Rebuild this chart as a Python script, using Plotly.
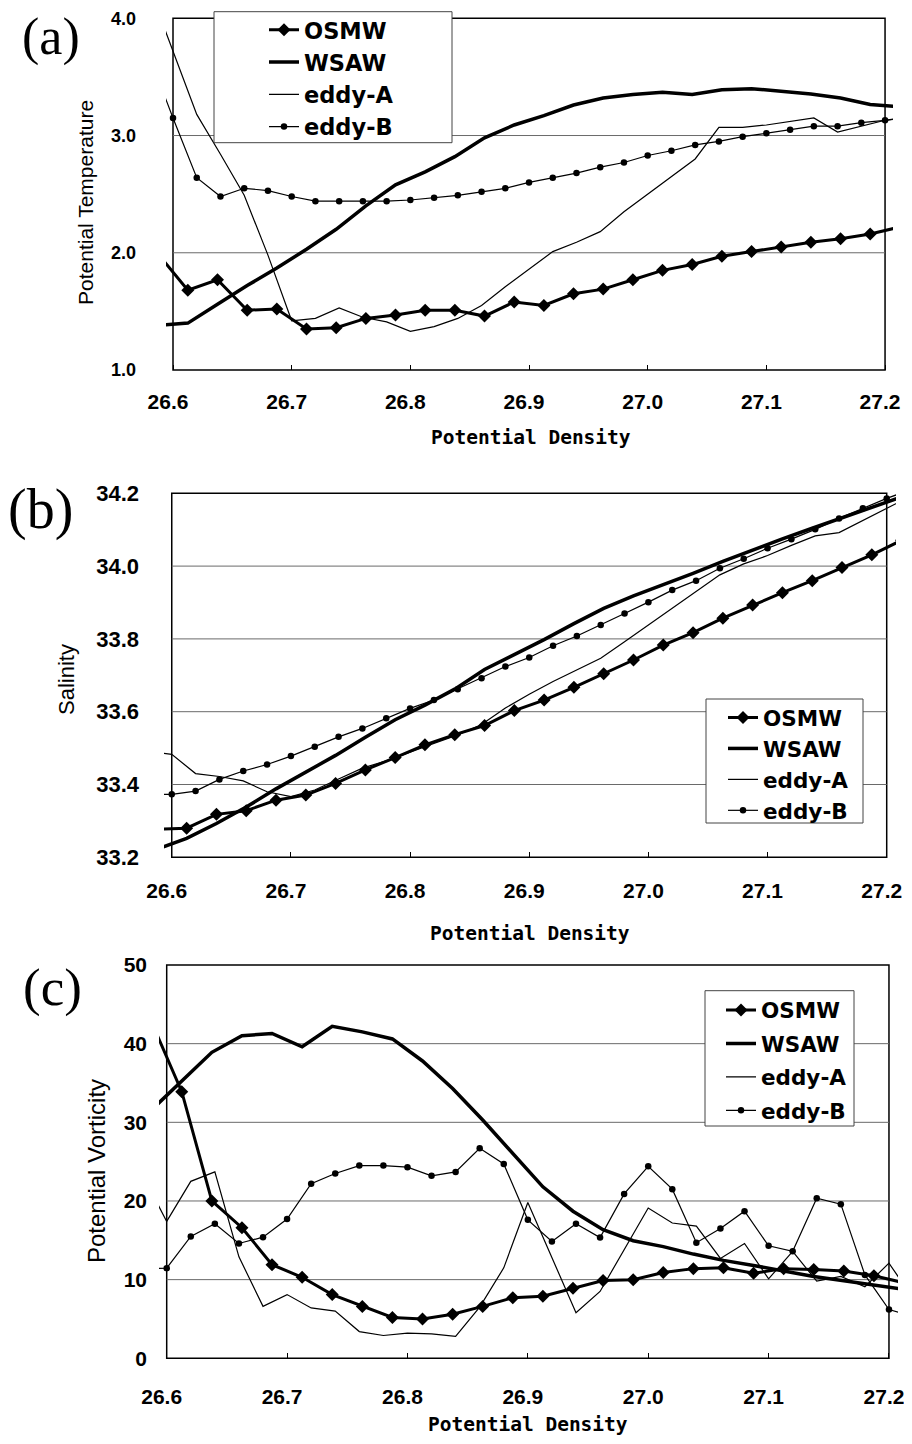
import plotly.graph_objects as go

# ---------------- data ----------------
SERIES = ["OSMW", "WSAW", "eddy-A", "eddy-B"]

# potential-density positions of water-mass profiles (OSMW, WSAW)
X_WM = [26.5875, 26.6125, 26.6375, 26.6625, 26.6875, 26.7125, 26.7375, 26.7625,
        26.7875, 26.8125, 26.8375, 26.8625, 26.8875, 26.9125, 26.9375, 26.9625,
        26.9875, 27.0125, 27.0375, 27.0625, 27.0875, 27.1125, 27.1375, 27.1625,
        27.1875, 27.2125]
# potential-density positions of eddy profiles (eddy-A, eddy-B)
X_EDDY = [26.58, 26.60, 26.62, 26.64, 26.66, 26.68, 26.70, 26.72, 26.74, 26.76,
          26.78, 26.80, 26.82, 26.84, 26.86, 26.88, 26.90, 26.92, 26.94, 26.96,
          26.98, 27.00, 27.02, 27.04, 27.06, 27.08, 27.10, 27.12, 27.14, 27.16,
          27.18, 27.20, 27.22]

# (a) potential temperature
TEMP_OSMW = [1.99, 1.68, 1.77, 1.51, 1.52, 1.35, 1.36, 1.44, 1.47, 1.51, 1.51, 1.46,
             1.58, 1.55, 1.65, 1.69, 1.77, 1.85, 1.90, 1.97, 2.01, 2.05, 2.09, 2.12,
             2.16, 2.22]
TEMP_WSAW = [1.38, 1.40, 1.56, 1.72, 1.87, 2.03, 2.20, 2.40, 2.58, 2.69, 2.82, 2.98,
             3.09, 3.17, 3.26, 3.32, 3.35, 3.37, 3.35, 3.39, 3.40, 3.38, 3.355, 3.32,
             3.265, 3.245]
TEMP_EDDYA = [4.26, 3.72, 3.18, 2.84, 2.49, 1.98, 1.42, 1.44, 1.53, 1.45, 1.41, 1.33,
              1.37, 1.44, 1.55, 1.71, 1.86, 2.01, 2.09, 2.18, 2.35, 2.50, 2.65, 2.80,
              3.07, 3.07, 3.09, 3.12, 3.15, 3.03, 3.08, 3.13, 3.16]
TEMP_EDDYB = [3.68, 3.15, 2.64, 2.48, 2.55, 2.53, 2.48, 2.44, 2.44, 2.44, 2.44, 2.45,
              2.47, 2.49, 2.52, 2.55, 2.60, 2.64, 2.68, 2.73, 2.77, 2.83, 2.87, 2.92,
              2.95, 2.99, 3.02, 3.05, 3.08, 3.08, 3.11, 3.13, 3.15]

# (b) salinity
SAL_OSMW = [33.277, 33.280, 33.318, 33.328, 33.357, 33.371, 33.403, 33.440, 33.474,
            33.509, 33.537, 33.562, 33.603, 33.632, 33.667, 33.704, 33.742, 33.783,
            33.817, 33.857, 33.893, 33.927, 33.960, 33.996, 34.031, 34.071]
SAL_WSAW = [33.222, 33.252, 33.293, 33.338, 33.388, 33.435, 33.480, 33.530, 33.578,
            33.618, 33.662, 33.716, 33.757, 33.798, 33.842, 33.884, 33.918, 33.948,
            33.980, 34.013, 34.045, 34.075, 34.104, 34.132, 34.161, 34.190]
SAL_EDDYA = [33.490, 33.483, 33.430, 33.422, 33.410, 33.380, 33.367, 33.385, 33.415,
             33.445, 33.465, 33.490, 33.513, 33.536, 33.565, 33.610, 33.648, 33.683,
             33.715, 33.747, 33.792, 33.838, 33.884, 33.930, 33.976, 34.006, 34.029,
             34.057, 34.083, 34.092, 34.125, 34.158, 34.192]
SAL_EDDYB = [33.372, 33.373, 33.382, 33.414, 33.437, 33.455, 33.478, 33.504, 33.531,
             33.554, 33.582, 33.609, 33.632, 33.662, 33.692, 33.724, 33.749, 33.781,
             33.808, 33.838, 33.870, 33.901, 33.934, 33.960, 33.994, 34.020, 34.049,
             34.074, 34.101, 34.131, 34.159, 34.186, 34.210]

# (c) potential vorticity
PV_OSMW = [42.7, 33.9, 20.0, 16.6, 11.9, 10.3, 8.1, 6.6, 5.2, 5.0, 5.6, 6.6, 7.7, 7.9,
           8.9, 9.9, 10.0, 10.9, 11.4, 11.5, 10.8, 11.4, 11.3, 11.1, 10.5, 9.6]
PV_WSAW = [31.6, 35.3, 38.9, 41.0, 41.3, 39.6, 42.2, 41.5, 40.6, 37.8, 34.3, 30.3,
           26.0, 21.8, 18.7, 16.35, 14.95, 14.2, 13.25, 12.45, 11.8, 11.1, 10.4, 9.85,
           9.25, 8.75]
PV_EDDYA = [23.3, 17.4, 22.5, 23.7, 12.9, 6.6, 8.1, 6.4, 6.0, 3.4, 2.9, 3.2, 3.1, 2.8,
            6.5, 11.5, 19.8, 12.8, 5.8, 8.5, 13.8, 19.1, 17.2, 16.8, 12.7, 14.6, 10.1,
            13.6, 9.8, 10.4, 9.1, 12.1, 7.6]
PV_EDDYB = [11.4, 11.46, 15.5, 17.1, 14.6, 15.4, 17.7, 22.2, 23.5, 24.5, 24.5, 24.3,
            23.2, 23.7, 26.7, 24.7, 17.6, 14.85, 17.1, 15.35, 20.9, 24.4, 21.5, 14.7,
            16.5, 18.7, 14.3, 13.6, 20.35, 19.6, 10.6, 6.2, 5.3]

X_TICKS = [26.6, 26.7, 26.8, 26.9, 27.0, 27.1, 27.2]

# ---------------- layout helpers ----------------
# the page body keeps its default 8 px margin, so the figure is sized to fit inside it
OFF = 8
W, H = 912 - 2 * OFF, 1444 - 2 * OFF


def fx(p):
    return (p - OFF) / W


def fy(p):
    return 1 - (p - OFF) / H


STYLE = {
    "OSMW": dict(mode="lines+markers", line=dict(color="black", width=3),
                 marker=dict(symbol="diamond", size=10, color="black")),
    "WSAW": dict(mode="lines", line=dict(color="black", width=3.5)),
    "eddy-A": dict(mode="lines", line=dict(color="black", width=1.2)),
    "eddy-B": dict(mode="lines+markers", line=dict(color="black", width=1.2),
                   marker=dict(symbol="circle", size=6.5, color="black")),
}

panels = [
    dict(sfx="", leg="legend", label="(a)", lab_xy=(51, 37), lab_size=52,
         xr=[26.5941, 27.2067], xdom=(166, 893), ydom=(18.3, 370), yr=[1.0, 4.0],
         ytv=[1.0, 2.0, 3.0, 4.0], yfmt=".1f", grid=[2.0, 3.0], yfont=18, ystand=29, xstand=17,
         ytitle="Potential Temperature", yt_xy=(86, 203), yt_size=21,
         xt_xy=(531, 437),
         series=[(X_WM, TEMP_OSMW), (X_WM, TEMP_WSAW), (X_EDDY, TEMP_EDDYA), (X_EDDY, TEMP_EDDYB)],
         box=(214, 11.7, 452, 142.7), leg_xy=(264, 8.7), leg_font=22.5, gap=0),
    dict(sfx="2", leg="legend2", label="(b)", lab_xy=(40, 510), lab_size=56,
         xr=[26.5935, 27.2078], xdom=(164, 896), ydom=(493.3, 857.3), yr=[33.2, 34.2],
         ytv=[33.2, 33.4, 33.6, 33.8, 34.0, 34.2], yfmt=".1f", grid=[33.4, 33.6, 33.8, 34.0],
         yfont=22, ystand=24, xstand=19,
         ytitle="Salinity", yt_xy=(66, 680), yt_size=22,
         xt_xy=(530, 933),
         series=[(X_WM, SAL_OSMW), (X_WM, SAL_WSAW), (X_EDDY, SAL_EDDYA), (X_EDDY, SAL_EDDYB)],
         box=(706, 699, 863, 823), leg_xy=(723, 697), leg_font=21.5, gap=0),
    dict(sfx="3", leg="legend3", label="(c)", lab_xy=(52, 987), lab_size=53,
         xr=[26.5936, 27.2075], xdom=(159, 898), ydom=(965, 1358.3), yr=[0, 50],
         ytv=[0, 10, 20, 30, 40, 50], yfmt="d", grid=[10, 20, 30, 40],
         yfont=21, ystand=11, xstand=24,
         ytitle="Potential Vorticity", yt_xy=(96, 1171), yt_size=24,
         xt_xy=(528, 1424),
         series=[(X_WM, PV_OSMW), (X_WM, PV_WSAW), (X_EDDY, PV_EDDYA), (X_EDDY, PV_EDDYB)],
         box=(705, 990.7, 854, 1126), leg_xy=(721, 989.5), leg_font=21.5, gap=2.5),
]

fig = go.Figure()
shapes = []
annotations = []
layout = dict(
    width=W, height=H, margin=dict(l=0, r=0, t=0, b=0, pad=0, autoexpand=False),
    paper_bgcolor="white", plot_bgcolor="white",
    font=dict(family="Liberation Sans, Arial, sans-serif", color="black"),
)

for p in panels:
    xa, ya = "x" + p["sfx"], "y" + p["sfx"]
    for name, (xs, ys) in zip(SERIES, p["series"]):
        fig.add_trace(go.Scatter(
            x=xs, y=ys, name=name, xaxis=xa, yaxis=ya, legend=p["leg"],
            legendgroup=name + p["sfx"], showlegend=True, **STYLE[name]))

    layout["xaxis" + p["sfx"]] = dict(
        domain=[fx(p["xdom"][0]), fx(p["xdom"][1])], range=p["xr"], anchor=ya,
        tickvals=X_TICKS, tickformat=".1f", ticks="inside", ticklen=5, tickwidth=1,
        tickcolor="black", showgrid=False, zeroline=False, showline=False,
        automargin=False, ticklabelstandoff=p["xstand"], ticklabelshift=-5,
        ticklabeloverflow="allow",
        tickfont=dict(size=21, family="Liberation Sans, Arial", weight="bold", color="black"))
    layout["yaxis" + p["sfx"]] = dict(
        domain=[fy(p["ydom"][1]), fy(p["ydom"][0])], range=p["yr"], anchor=xa,
        tickvals=p["ytv"], tickformat=p["yfmt"], ticks="",
        showgrid=False, zeroline=False, showline=False, automargin=False,
        ticklabelstandoff=p["ystand"], ticklabeloverflow="allow",
        tickfont=dict(size=p["yfont"], family="Liberation Sans, Arial", weight="bold", color="black"))

    # horizontal gridlines within the frame
    for g in p["grid"]:
        shapes.append(dict(type="line", xref=xa, yref=ya, x0=X_TICKS[0], x1=X_TICKS[-1],
                           y0=g, y1=g, line=dict(color="#6a6a6a", width=1), layer="below"))
    # plot frame
    shapes.append(dict(type="rect", xref=xa, yref=ya + " domain", x0=X_TICKS[0], x1=X_TICKS[-1],
                       y0=0, y1=1, line=dict(color="black", width=1.5), layer="below"))
    # legend box
    bx0, by0, bx1, by1 = p["box"]
    shapes.append(dict(type="rect", xref="paper", yref="paper", x0=fx(bx0), x1=fx(bx1),
                       y0=fy(by1), y1=fy(by0), fillcolor="white",
                       line=dict(color="#444", width=1), layer="above"))
    layout[p["leg"]] = dict(
        x=fx(p["leg_xy"][0]), y=fy(p["leg_xy"][1]), xanchor="left", yanchor="top",
        bgcolor="rgba(0,0,0,0)", borderwidth=0, tracegroupgap=p["gap"],
        font=dict(family="DejaVu Sans, sans-serif", size=p["leg_font"], weight="bold",
                  color="black"))

    annotations.append(dict(text=p["label"], xref="paper", yref="paper",
                            x=fx(p["lab_xy"][0]), y=fy(p["lab_xy"][1]),
                            xanchor="center", yanchor="middle", showarrow=False,
                            font=dict(family="Liberation Serif, Times New Roman, serif",
                                      size=p["lab_size"], color="black")))
    annotations.append(dict(text=p["ytitle"], xref="paper", yref="paper",
                            x=fx(p["yt_xy"][0]), y=fy(p["yt_xy"][1]), textangle=-90,
                            xanchor="center", yanchor="middle", showarrow=False,
                            font=dict(family="Liberation Sans, Arial", size=p["yt_size"],
                                      color="black")))
    annotations.append(dict(text="Potential Density", xref="paper", yref="paper",
                            x=fx(p["xt_xy"][0]), y=fy(p["xt_xy"][1]),
                            xanchor="center", yanchor="middle", showarrow=False,
                            font=dict(family="DejaVu Sans Mono, monospace", size=19.5,
                                      weight="bold", color="black")))

layout["shapes"] = shapes
layout["annotations"] = annotations
fig.update_layout(**layout)

fig.write_html("out.html")
